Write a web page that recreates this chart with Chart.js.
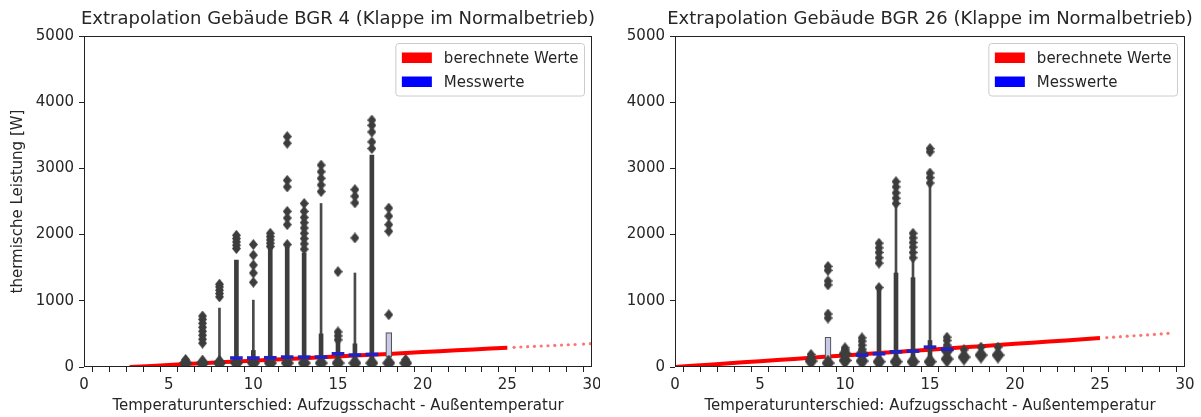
<!DOCTYPE html>
<html><head><meta charset="utf-8">
<script src="https://cdn.jsdelivr.net/npm/chart.js@4.4.0/dist/chart.umd.min.js"></script>
<style>
body{margin:0;background:#fff;width:1201px;height:417px;overflow:hidden;position:relative}
canvas{position:absolute;top:0}
</style></head><body>
<canvas id="c1" width="600" height="417" style="left:0px"></canvas>
<canvas id="c2" width="601" height="417" style="left:600px"></canvas>
<script>
// ---------- shared texts ----------
const X_TITLE = 'Temperaturunterschied: Aufzugsschacht - Außentemperatur';
const Y_TITLE = 'thermische Leistung [W]';
const LEGEND_LABELS = ['berechnete Werte', 'Messwerte'];
const Y_TICKS = [0, 1000, 2000, 3000, 4000, 5000];
const X_LABEL_TICKS = [0, 5, 10, 15, 20, 25, 30];

// ---------- left plot (BGR 4) ----------
const L_title = 'Extrapolation Gebäude BGR 4 (Klappe im Normalbetrieb)';
const L_pos      = [6, 7, 8, 9, 10, 11, 12, 13, 14, 15, 16, 17, 18, 19];
const L_thinTop  = [0, 0, 890, 0, 1010, 0, 0, 0, 2470, 0, 1420, 0, 0, 0];
const L_thickTop = [0, 0, 0, 1615, 250, 1810, 1810, 1720, 500, 560, 350, 3200, 0, 0];
const L_base = [
  [60], [60], [60], [60], [60], [60], [60], [60], [60], [60], [60], [60], [60], [60]
];
const L_fliers = [
  [110],
  [360, 420, 480, 540, 600, 660, 720, 770],
  [1060, 1110, 1160, 1210, 1250],
  [1790, 1840, 1890, 1940, 1990],
  [1280, 1420, 1540, 1690, 1850],
  [1820, 1870, 1920, 1970, 2020],
  [1850, 2150, 2250, 2350, 2720, 2820, 3380, 3480],
  [1780, 1860, 1940, 2020, 2100, 2180, 2260, 2350, 2470],
  [2650, 2750, 2850, 2950, 3050],
  [410, 470, 530, 1440],
  [1950, 2480, 2580, 2680],
  [3300, 3400, 3550, 3650, 3730],
  [790, 2050, 2150, 2280, 2400],
  [110]
];
const L_messPos = [9, 10, 11, 12, 13, 14, 15, 16, 17];
const L_messVal = [136, 136, 140, 150, 150, 150, 200, 180, 190];
const L_boxPos = [18];
const L_boxLow = [150];
const L_boxHigh = [520];
const L_redX = [2.7, 4, 5, 6, 7, 8, 9, 10, 11, 12, 13, 14, 15, 16, 17, 18, 19, 20, 21, 22, 23, 24, 25];
const L_redY = [0, 15, 30, 45, 58, 70, 82, 95, 108, 120, 133, 146, 160, 172, 185, 198, 212, 225, 238, 252, 265, 280, 292];
const L_tailX = [25.4, 25.8, 26.2, 26.6, 27, 27.4, 27.8, 28.2, 28.6, 29, 29.5, 29.9];
const L_tailY = [297, 302, 307, 312, 317, 321, 326, 331, 336, 340, 346, 352];

// ---------- right plot (BGR 26) ----------
const R_title = 'Extrapolation Gebäude BGR 26 (Klappe im Normalbetrieb)';
const R_pos      = [8, 9, 10, 11, 12, 13, 14, 15, 16, 17, 18, 19];
const R_thinTop  = [0, 0, 0, 0, 0, 2470, 1650, 2780, 0, 0, 0, 0];
const R_thickTop = [0, 0, 0, 0, 1200, 1420, 1350, 400, 0, 0, 0, 0];
const R_base = [
  [90], [60], [100, 200], [90, 200], [80], [80], [80], [80], [120, 250], [150], [180], [180]
];
const R_fliers = [
  [150, 190],
  [740, 800, 1240, 1300, 1460, 1520],
  [260, 290],
  [270, 330, 390, 440],
  [1200, 1570, 1650, 1730, 1800, 1870],
  [2470, 2550, 2630, 2720, 2800],
  [1650, 1730, 1810, 1880, 1950, 2020],
  [2780, 2860, 2930, 3250, 3300],
  [330, 400, 450],
  [260],
  [300],
  [300]
];
const R_messPos = [11, 12, 13, 14, 15, 16];
const R_messVal = [180, 200, 230, 240, 300, 270];
const R_boxPos = [9];
const R_boxLow = [100];
const R_boxHigh = [450];
const R_redX = [0, 1, 2, 3, 4, 5, 6, 7, 8, 9, 10, 11, 12, 13, 14, 15, 16, 17, 18, 19, 20, 21, 22, 23, 24, 25];
const R_redY = [0, 18, 35, 52, 70, 88, 105, 122, 140, 158, 175, 192, 210, 228, 245, 262, 280, 298, 315, 332, 350, 368, 385, 402, 420, 438];
const R_tailX = [25.4, 25.8, 26.2, 26.6, 27, 27.4, 27.8, 28.2, 28.6, 29];
const R_tailY = [444, 451, 458, 465, 472, 478, 485, 492, 499, 508];

// ---------- styling ----------
const FONT = "'DejaVu Sans', sans-serif";
const INK = '#262626';
const GREY = '#3d3d3d';

function diamond(w, h, color) {
  const c = document.createElement('canvas');
  c.width = w; c.height = h;
  const g = c.getContext('2d');
  g.fillStyle = color;
  g.beginPath();
  g.moveTo(w / 2, 0); g.lineTo(w, h / 2); g.lineTo(w / 2, h); g.lineTo(0, h / 2);
  g.closePath(); g.fill();
  return c;
}
const DIA = diamond(9, 11, GREY);
const DIA_BIG = diamond(13, 17, GREY);

const deco = {
  id: 'deco',
  afterDraw(chart, args, o) {
    const ctx = chart.ctx, a = chart.chartArea;
    ctx.save();
    ctx.strokeStyle = '#222'; ctx.lineWidth = 1;
    ctx.strokeRect(Math.round(a.left) + 0.5, Math.round(a.top) + 0.5,
                   Math.round(a.right - a.left) - 1, Math.round(a.bottom - a.top) - 1);
    ctx.fillStyle = INK; ctx.textAlign = 'center'; ctx.textBaseline = 'middle';
    ctx.font = '18px ' + FONT;
    ctx.fillText(o.title, (a.left + a.right) / 2, 19);
    ctx.font = '15px ' + FONT;
    ctx.fillText(X_TITLE, (a.left + a.right) / 2, 406);
    if (o.ytitle) {
      ctx.save();
      ctx.translate(18, (a.top + a.bottom) / 2);
      ctx.rotate(-Math.PI / 2);
      ctx.fillText(Y_TITLE, 0, 0);
      ctx.restore();
    }
    const fs = 15;
    ctx.font = fs + 'px ' + FONT;
    const tw = Math.max(...LEGEND_LABELS.map(t => ctx.measureText(t).width));
    const pad = 0.4 * fs, hl = 2 * fs, htp = 0.8 * fs, rowH = fs * 1.1, ls = 0.5 * fs;
    const w = pad * 2 + hl + htp + tw, h = pad * 2 + rowH * 2 + ls;
    const x1 = a.right - 0.5 * fs - w, y1 = a.top + 0.5 * fs;
    ctx.beginPath();
    ctx.roundRect(x1, y1, w, h, 3);
    ctx.fillStyle = 'rgba(255,255,255,0.8)'; ctx.fill();
    ctx.strokeStyle = '#cccccc'; ctx.stroke();
    const cols = ['#ff0000', '#0000ff'];
    LEGEND_LABELS.forEach((t, i) => {
      const cy = y1 + pad + rowH / 2 + i * (rowH + ls);
      ctx.fillStyle = cols[i];
      ctx.fillRect(x1 + pad, cy - 0.35 * fs, hl, 0.7 * fs);
      ctx.fillStyle = INK; ctx.textAlign = 'left';
      ctx.fillText(t, x1 + pad + hl + htp, cy + 1);
    });
    ctx.restore();
  }
};

function build(id, s) {
  const stems = (arr) => s.pos.map((x, i) => ({ x, y: [0, arr[i]] })).filter(d => d.y[1] > 0);
  const pts = (lists) => s.pos.flatMap((x, i) => lists[i].map(y => ({ x, y })));
  const mess = s.messPos.map((x, i) => ({ x, y: [s.messVal[i] - 22, s.messVal[i] + 22] }));
  const boxes = s.boxPos.map((x, i) => ({ x, y: [s.boxLow[i], s.boxHigh[i]] }));
  const red = s.redX.map((x, i) => ({ x, y: s.redY[i] }));
  const tail = s.tailX.map((x, i) => ({ x, y: s.tailY[i] }));
  return new Chart(document.getElementById(id), {
    type: 'scatter',
    data: {
      datasets: [
        { type: 'line', data: red, borderColor: '#ff0000', borderWidth: 4, pointRadius: 0, showLine: true, tension: 0, order: 8 },
        { type: 'scatter', data: tail, backgroundColor: 'rgba(255,0,0,0.55)', borderWidth: 0, pointRadius: 1.6, order: 8 },
        { type: 'bar', data: stems(s.thinTop), backgroundColor: '#4a4a4a', barThickness: 2, grouped: false, order: 6 },
        { type: 'bar', data: stems(s.thickTop), backgroundColor: GREY, barThickness: 4, grouped: false, order: 5 },
        { type: 'bar', data: boxes, backgroundColor: '#c8c9e6', borderColor: '#555', borderWidth: 1.2, borderSkipped: false, barThickness: 6, grouped: false, order: 4 },
        { type: 'scatter', data: pts(s.base), pointStyle: DIA_BIG, pointRadius: 7, order: 3 },
        { type: 'scatter', data: pts(s.fliers), pointStyle: DIA, pointRadius: 5, order: 3 },
        { type: 'bar', data: mess, backgroundColor: '#2222c4', barThickness: 12, grouped: false, order: 2 }
      ]
    },
    options: {
      responsive: false, animation: false, devicePixelRatio: 1,
      layout: { padding: { top: 36, right: s.padRight, bottom: 0, left: 0 } },
      plugins: { legend: { display: false }, tooltip: { enabled: false }, deco: { title: s.title, ytitle: s.ytitle } },
      scales: {
        x: {
          type: 'linear', min: 0, max: 30, offset: false,
          afterFit: sc => { sc.height = 50; sc.paddingLeft = 0; sc.paddingRight = 0; },
          border: { display: false },
          grid: { drawOnChartArea: false, drawTicks: true, tickLength: 5, color: '#222' },
          ticks: { stepSize: 1, autoSkip: false, maxRotation: 0, padding: 4, color: INK, font: { family: FONT, size: 15 },
                   callback: v => X_LABEL_TICKS.includes(v) ? String(v) : '' }
        },
        y: {
          type: 'linear', min: 0, max: 5000,
          afterFit: sc => { sc.width = s.yWidth; sc.paddingTop = 0; sc.paddingBottom = 0; },
          afterBuildTicks: sc => { sc.ticks = Y_TICKS.map(v => ({ value: v })); },
          border: { display: false },
          grid: { drawOnChartArea: false, drawTicks: true, tickLength: 5, color: '#222' },
          ticks: { padding: 5, color: INK, font: { family: FONT, size: 15 }, callback: v => String(v) }
        }
      }
    },
    plugins: [deco]
  });
}

build('c1', { title: L_title, ytitle: true, yWidth: 84, padRight: 5,
  pos: L_pos, thinTop: L_thinTop, thickTop: L_thickTop, base: L_base, fliers: L_fliers,
  messPos: L_messPos, messVal: L_messVal, boxPos: L_boxPos, boxLow: L_boxLow, boxHigh: L_boxHigh,
  redX: L_redX, redY: L_redY, tailX: L_tailX, tailY: L_tailY });
build('c2', { title: R_title, ytitle: false, yWidth: 75, padRight: 16,
  pos: R_pos, thinTop: R_thinTop, thickTop: R_thickTop, base: R_base, fliers: R_fliers,
  messPos: R_messPos, messVal: R_messVal, boxPos: R_boxPos, boxLow: R_boxLow, boxHigh: R_boxHigh,
  redX: R_redX, redY: R_redY, tailX: R_tailX, tailY: R_tailY });
</script>
</body></html>
